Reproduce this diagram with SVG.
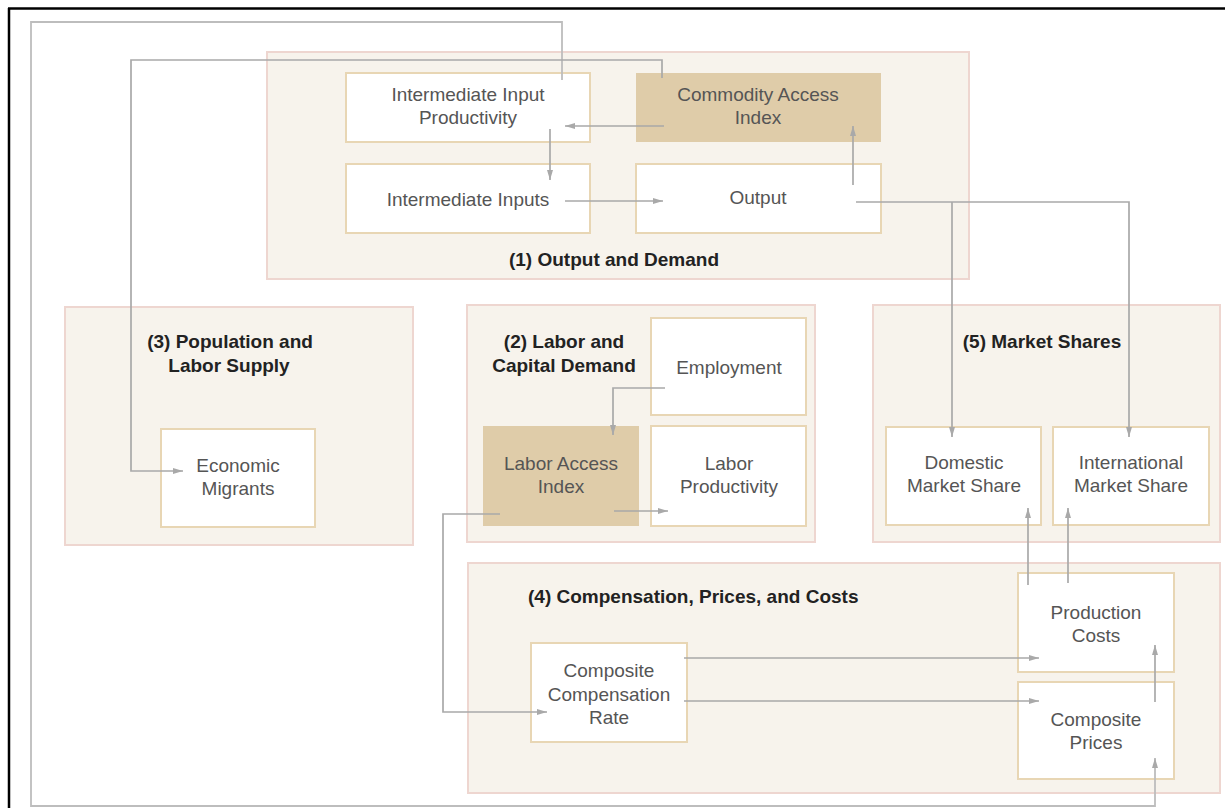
<svg xmlns="http://www.w3.org/2000/svg" width="1225" height="808" viewBox="0 0 1225 808">
<style>
.grp{fill:#f7f3ec;stroke:#eed6d0;stroke-width:2}
.node{fill:#ffffff;stroke:#e8d6b4;stroke-width:2}
.tan{fill:#dfcca9;stroke:none}
.t{font-family:"Liberation Sans",Arial,sans-serif;font-size:19px;fill:#555555;text-anchor:middle}
.h{font-family:"Liberation Sans",Arial,sans-serif;font-size:19px;font-weight:bold;fill:#222222}
.c{fill:none;stroke:#a9a9a9;stroke-width:1.7}
.o{fill:none;stroke:#bdbdbd;stroke-width:1.8}
</style>
<defs>
<marker id="ah" markerUnits="userSpaceOnUse" markerWidth="12" markerHeight="8" refX="10" refY="3" orient="auto">
<path d="M0,0 L10,3 L0,6 Z" fill="#a9a9a9"/>
</marker>
</defs>
<rect x="0" y="0" width="1225" height="808" fill="#ffffff"/>
<g id="frame">
<line x1="8" y1="8.5" x2="1225" y2="8.5" stroke="#000" stroke-width="2.5"/>
<line x1="9" y1="8" x2="9" y2="808" stroke="#000" stroke-width="2.5"/>
</g>
<g id="group1"><rect class="grp" x="267" y="52" width="702" height="227"/><text class="h" x="614" y="266" text-anchor="middle">(1) Output and Demand</text></g>
<g id="group3"><rect class="grp" x="65" y="307" width="348" height="238"/><text class="h" x="230" y="348" text-anchor="middle">(3) Population and</text><text class="h" x="229" y="372" text-anchor="middle">Labor Supply</text></g>
<g id="group2"><rect class="grp" x="467" y="305" width="348" height="237"/><text class="h" x="564" y="348" text-anchor="middle">(2) Labor and</text><text class="h" x="564" y="372" text-anchor="middle">Capital Demand</text></g>
<g id="group5"><rect class="grp" x="873" y="305" width="347" height="237"/><text class="h" x="1042" y="348" text-anchor="middle">(5) Market Shares</text></g>
<g id="group4"><rect class="grp" x="468" y="563" width="752" height="230"/><text class="h" x="528" y="603">(4) Compensation, Prices, and Costs</text></g>

<g id="iip"><rect class="node" x="346" y="73" width="244" height="69"/><text class="t" x="468" y="101">Intermediate Input</text><text class="t" x="468" y="124">Productivity</text></g>
<g id="cai"><rect class="tan" x="636" y="73" width="245" height="69"/><text class="t" x="758" y="101">Commodity Access</text><text class="t" x="758" y="124">Index</text></g>
<g id="ii"><rect class="node" x="346" y="164" width="244" height="69"/><text class="t" x="468" y="206">Intermediate Inputs</text></g>
<g id="output"><rect class="node" x="636" y="164" width="245" height="69"/><text class="t" x="758" y="204">Output</text></g>
<g id="em"><rect class="node" x="161" y="429" width="154" height="98"/><text class="t" x="238" y="472">Economic</text><text class="t" x="238" y="495">Migrants</text></g>
<g id="emp"><rect class="node" x="651" y="318" width="155" height="97"/><text class="t" x="729" y="374">Employment</text></g>
<g id="lai"><rect class="tan" x="483" y="426" width="156" height="100"/><text class="t" x="561" y="470">Labor Access</text><text class="t" x="561" y="493">Index</text></g>
<g id="lp"><rect class="node" x="651" y="426" width="155" height="100"/><text class="t" x="729" y="470">Labor</text><text class="t" x="729" y="493">Productivity</text></g>
<g id="dms"><rect class="node" x="886" y="427" width="155" height="98"/><text class="t" x="964" y="469">Domestic</text><text class="t" x="964" y="492">Market Share</text></g>
<g id="ims"><rect class="node" x="1053" y="427" width="156" height="98"/><text class="t" x="1131" y="469">International</text><text class="t" x="1131" y="492">Market Share</text></g>
<g id="ccr"><rect class="node" x="531" y="643" width="156" height="99"/><text class="t" x="609" y="677">Composite</text><text class="t" x="609" y="701">Compensation</text><text class="t" x="609" y="724">Rate</text></g>
<g id="pc"><rect class="node" x="1018" y="573" width="156" height="99"/><text class="t" x="1096" y="619">Production</text><text class="t" x="1096" y="642">Costs</text></g>
<g id="cp"><rect class="node" x="1018" y="682" width="156" height="97"/><text class="t" x="1096" y="726">Composite</text><text class="t" x="1096" y="749">Prices</text></g>

<g id="connectors">
<path class="o" d="M562,80 V22 H31 V806 H1155 V758" marker-end="url(#ah)"/>
<path class="c" d="M662,78 V60 H131 V471 H183" marker-end="url(#ah)"/>
<path class="c" d="M664,126 H565" marker-end="url(#ah)"/>
<path class="c" d="M550,129 V180" marker-end="url(#ah)"/>
<path class="c" d="M565,201 H663" marker-end="url(#ah)"/>
<path class="c" d="M853,185 V126" marker-end="url(#ah)"/>
<path class="c" d="M856,202 H1129 V437" marker-end="url(#ah)"/>
<path class="c" d="M952,202 V437" marker-end="url(#ah)"/>
<path class="c" d="M665,388 H613 V435" marker-end="url(#ah)"/>
<path class="c" d="M614,511 H668" marker-end="url(#ah)"/>
<path class="c" d="M500,514 H443 V712 H547" marker-end="url(#ah)"/>
<path class="c" d="M684,658 H1039" marker-end="url(#ah)"/>
<path class="c" d="M684,701 H1039" marker-end="url(#ah)"/>
<path class="c" d="M1155,702 V645" marker-end="url(#ah)"/>
<path class="c" d="M1028,585 V508" marker-end="url(#ah)"/>
<path class="c" d="M1068,583 V508" marker-end="url(#ah)"/>
</g>
</svg>
